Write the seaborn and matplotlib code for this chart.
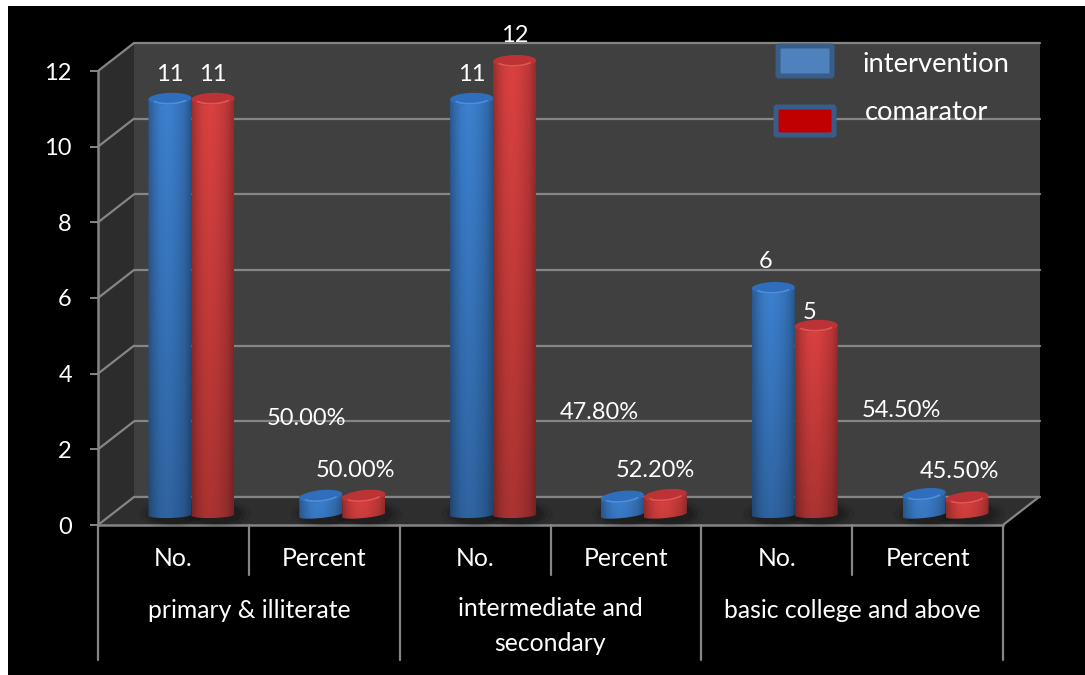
import numpy as np
import pandas as pd
import matplotlib
matplotlib.use("Agg")
import matplotlib.pyplot as plt
from matplotlib.colors import to_rgb
from matplotlib.patches import Polygon, Rectangle, FancyBboxPatch, Ellipse
import seaborn as sns

# Chart values
education_levels = ["primary & illiterate", "intermediate and\nsecondary", "basic college and above"]
measures = ["No.", "Percent"]
intervention_values = [11, 0.50, 11, 0.478, 6, 0.545]
comparator_values = [11, 0.50, 12, 0.522, 5, 0.455]
series_names = ["intervention", "comarator"]
y_ticks = [0, 2, 4, 6, 8, 10, 12]

# Label nudges in pixels, relative to the top of each cylinder
intervention_nudges = [(0, 24), (-14, 78), (0, 24), (-23, 84), (-8, 26), (-23, 84)]
comparator_nudges = [(0, 24), (-8, 26), (0, 25), (-10, 25), (-7, 13), (-8, 26)]

W, H = 1085, 675
PANEL_LEFT, PANEL_RIGHT = 98, 1003
FLOOR_FRONT, TOP_FRONT = 525, 71
DEPTH_X, DEPTH_Y = 36, 28
UNIT = (FLOOR_FRONT - TOP_FRONT) / 12
SLOT = (PANEL_RIGHT - PANEL_LEFT) / 6
LINE = "#858585"
FONT = ["Lato", "DejaVu Sans"]
FS_CATEGORY = 17.8
FS_VALUE = 17
FS_TICK = 17
FS_KEY = 19.7

sns.set_theme(style="white")
plt.rcParams["font.family"] = FONT


def place(x0, y0, x1, y1, zorder):
    a = fig.add_axes([x0 / W, 1 - y1 / H, (x1 - x0) / W, (y1 - y0) / H], zorder=zorder)
    a.patch.set_alpha(0)
    return a


fig = plt.figure(figsize=(W / 100, H / 100), dpi=100, facecolor="white")

# Full-figure canvas in pixel units for the black plate and the 3D side faces
canvas = place(0, 0, W, H, 0)
canvas.set_xlim(0, W)
canvas.set_ylim(H, 0)
canvas.axis("off")
canvas.add_patch(Rectangle((8, 6), W - 8, H - 6, fc="black", ec="none"))

# Back wall
wall = place(PANEL_LEFT + DEPTH_X, TOP_FRONT - DEPTH_Y,
             PANEL_RIGHT + DEPTH_X + 1, FLOOR_FRONT - DEPTH_Y, 1)
wall.patch.set_alpha(1)
wall.set_facecolor("#404040")
wall.set_ylim(0, 12)
wall.set_yticks(y_ticks)
wall.set_xticks([])
wall.tick_params(left=False, labelleft=False)
wall.grid(axis="y", color=LINE, lw=1.6, clip_on=False)
wall.set_axisbelow(False)
sns.despine(ax=wall, left=True, right=True, top=True, bottom=True)

# Side wall and floor, with the grid folding onto the side wall
side = place(0, 0, W, H, 2)
side.set_xlim(0, W)
side.set_ylim(H, 0)
side.axis("off")
side.add_patch(Polygon([(PANEL_LEFT, TOP_FRONT), (PANEL_LEFT + DEPTH_X, TOP_FRONT - DEPTH_Y),
                        (PANEL_LEFT + DEPTH_X, FLOOR_FRONT - DEPTH_Y), (PANEL_LEFT, FLOOR_FRONT)],
                       fc="#2c2c2c", ec="none"))
side.add_patch(Polygon([(PANEL_LEFT, FLOOR_FRONT), (PANEL_LEFT + DEPTH_X, FLOOR_FRONT - DEPTH_Y),
                        (PANEL_RIGHT + DEPTH_X, FLOOR_FRONT - DEPTH_Y), (PANEL_RIGHT, FLOOR_FRONT)],
                       fc="#2e2e2e", ec="none"))
for t in y_ticks:
    y = FLOOR_FRONT - t * UNIT
    side.plot([PANEL_LEFT, PANEL_LEFT + DEPTH_X], [y, y - DEPTH_Y], color=LINE, lw=1.6,
              solid_capstyle="round")
side.plot([PANEL_LEFT + DEPTH_X, PANEL_RIGHT + DEPTH_X], [FLOOR_FRONT - DEPTH_Y] * 2, color=LINE, lw=1.6)
side.plot([PANEL_RIGHT, PANEL_RIGHT + DEPTH_X], [FLOOR_FRONT, FLOOR_FRONT - DEPTH_Y], color=LINE, lw=1.6)

# Front plane: value axis, category separators and the two rows of category labels
front = place(PANEL_LEFT, TOP_FRONT, PANEL_RIGHT, FLOOR_FRONT, 3)
front.set_xlim(0, 6)
front.set_ylim(0, 12)
front.set_yticks(y_ticks)
front.set_xticks([])
front.tick_params(axis="y", left=True, length=5.8, width=1.4, color=LINE, pad=13,
                  labelcolor="white", labelsize=FS_TICK)
for name, spine in front.spines.items():
    spine.set_visible(name in ("left", "bottom"))
    spine.set_color(LINE)
    spine.set_linewidth(1.8)


def depth_below(px):
    return -(px - FLOOR_FRONT) / (FLOOR_FRONT - TOP_FRONT)


xt = front.get_xaxis_transform()
for i in range(7):
    low = depth_below(660 if i % 2 == 0 else 575)
    front.plot([i, i], [0, low], transform=xt, clip_on=False, color=LINE, lw=1.6)
for i, level in enumerate(education_levels):
    for j, m in enumerate(measures):
        front.text(2 * i + j + 0.5, depth_below(559), m, transform=xt, ha="center", va="center",
                   color="white", fontsize=FS_CATEGORY)
    two_lines = "\n" in level
    front.text(2 * i + 1, depth_below(626 if two_lines else 610), level, transform=xt, ha="center",
               va="center", color="white", fontsize=FS_CATEGORY, linespacing=1.6)

# Cylinders sit halfway back between the front plane and the wall
table = pd.DataFrame({
    "slot": [f"{lv}|{m}" for lv in education_levels for m in measures] * 2,
    "value": intervention_values + comparator_values,
    "series": [series_names[0]] * 6 + [series_names[1]] * 6,
})
BASE_Y = 515
ax = place(PANEL_LEFT + DEPTH_X / 2, BASE_Y - 12 * UNIT, PANEL_RIGHT + DEPTH_X / 2, BASE_Y, 4)
sns.barplot(data=table, x="slot", y="value", hue="series", hue_order=series_names,
            palette=["#2f6fb8", "#c63636"], width=0.57, gap=0, dodge=True, legend=False,
            errorbar=None, ax=ax, saturation=1)
ax.set_xlim(-0.5, 5.5)
ax.set_ylim(0, 12)
ax.axis("off")

profile = np.array([0.70, 0.86, 0.97, 1.0, 0.98, 0.92, 0.84, 0.68])
profile_x = np.linspace(0, 1, len(profile))
bar_styles = [("#3c80cf", "#2e6ebc", "#5a97dc"), ("#da4140", "#bd3335", "#e8605c")]
nudges = [intervention_nudges, comparator_nudges]


def rim(cx, half, cy, ry, tilt, start, stop):
    t = np.linspace(start, stop, 60)
    xs = cx + half * np.cos(t)
    ys = cy + (ry * np.sin(t) + tilt * (half * SLOT) * np.cos(t)) / UNIT
    return np.column_stack([xs, ys])


for s, container in enumerate(ax.containers):
    body, cap, glow = bar_styles[s]
    for k, bar in enumerate(container):
        x0 = bar.get_x()
        half = bar.get_width() / 2
        cx = x0 + half
        v = bar.get_height()
        bar.set_alpha(0)
        tilt = 0.10 if v < 1 else 0.03

        # Faint shadow cast on the floor
        for grow, alpha in ((1.6, 0.07), (1.35, 0.10), (1.15, 0.14)):
            ax.add_patch(Ellipse((cx + 4 / SLOT, 1 / UNIT), 2 * half * grow, 18 * grow / UNIT, fc="black",
                                 ec="none", alpha=alpha, clip_on=False, zorder=1))

        # Cylinder body: rounded shading across, darkening towards the floor
        across = np.interp(np.linspace(0, 1, 64), profile_x, profile)
        down = np.linspace(1.0, 0.78 if v > 1 else 0.92, 64)
        shade = np.outer(down, across)[..., None] * np.array(to_rgb(body))
        outline = np.vstack([rim(cx, half, 0, 3, tilt, np.pi, 2 * np.pi),
                             [[x0 + 2 * half, v], [x0, v]]])
        clip = Polygon(outline, transform=ax.transData, fc="none", ec="none", clip_on=False)
        ax.add_patch(clip)
        img = ax.imshow(np.clip(shade, 0, 1), extent=(x0, x0 + 2 * half, -8 / UNIT, v),
                        aspect="auto", origin="upper", zorder=3, interpolation="bilinear")
        img.set_clip_box(fig.bbox)
        img.set_clip_path(clip)

        # Top face and the light rim along its front edge
        ax.add_patch(Polygon(rim(cx, half, v, 6, tilt, 0, 2 * np.pi), fc=cap, ec="none",
                             zorder=4, clip_on=False))
        edge = rim(cx, half * 0.8, v, 4.8, tilt, np.pi * 1.15, np.pi * 1.85)
        ax.plot(edge[:, 0], edge[:, 1], color=glow, lw=1.2, alpha=0.8, zorder=5, clip_on=False)

        text = f"{v * 100:.2f}%" if v < 1 else f"{v:g}"
        dx, dy = nudges[s][k]
        ax.annotate(text, (cx, v), xytext=(dx, dy), textcoords="offset pixels", ha="center",
                    va="center", color="white", fontsize=FS_VALUE, zorder=6, annotation_clip=False)
ax.set_xlim(-0.5, 5.5)
ax.set_ylim(0, 12)

# Hand-placed key
key = place(0, 0, W, H, 5)
key.set_xlim(0, W)
key.set_ylim(H, 0)
key.axis("off")
key.add_patch(FancyBboxPatch((778, 46), 54, 30, boxstyle="round,pad=0,rounding_size=1",
                             fc="#4f81bd", ec="#385d8a", lw=3.6))
key.add_patch(FancyBboxPatch((776, 107), 58, 28, boxstyle="round,pad=0,rounding_size=1",
                             fc="#c00000", ec="#385d8a", lw=3.6))
key.text(863, 65, series_names[0], color="white", fontsize=FS_KEY, va="center", ha="left")
key.text(865, 112, series_names[1], color="white", fontsize=FS_KEY, va="center", ha="left")

fig.savefig("out.png", dpi=100, facecolor=fig.get_facecolor())
